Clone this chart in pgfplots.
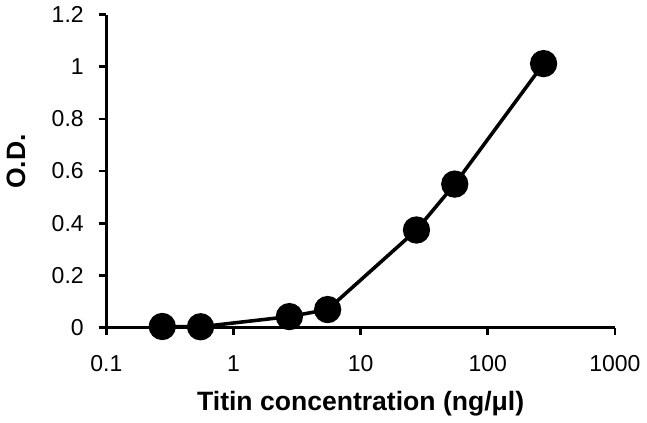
\documentclass[border=0pt]{standalone}
\usepackage{fontspec}
\setmainfont{Liberation Sans}
\usepackage{pgfplots}
\pgfplotsset{compat=1.18}

\begin{document}
\begin{tikzpicture}
\begin{semilogxaxis}[
    scale only axis,
    width=257.5bp,
    height=158.5bp,
    xmin=0.1, xmax=1000,
    ymin=0, ymax=1.2,
    axis lines*=left,
    axis line style={line width=1.3bp},
    tick align=outside,
    major tick length=4bp,
    tick style={line width=1.3bp, black},
    xtick={0.1,1,10,100,1000},
    xticklabels={0.1,1,10,100,1000},
    ytick={0,0.2,...,1.2},
    xminorticks=false,
    /pgf/number format/assume math mode=true,
    /pgf/number format/fixed,
    ticklabel style={font=\fontsize{11.7}{13}\selectfont},
    xticklabel style={yshift=-6.5bp},
    yticklabel style={xshift=-4bp},
    clip=false,
    xlabel={Titin concentration (ng/μl)},
    ylabel={O.D.},
    xlabel style={font=\fontsize{13.5}{15}\selectfont\bfseries, at={(axis description cs:0.5,0)}, anchor=base, yshift=-42bp},
    ylabel style={font=\fontsize{13.5}{15}\selectfont\bfseries, at={(axis description cs:-0.178,0.53)}, anchor=center, rotate=0},
]
\addplot[black, line width=1.8bp, mark=*, mark size=6bp, mark options={fill=black}] coordinates {
    (0.275, 0.004)
    (0.55, 0.003)
    (2.75, 0.042)
    (5.5, 0.069)
    (27.5, 0.374)
    (55, 0.550)
    (275, 1.012)
};
\end{semilogxaxis}
\end{tikzpicture}
\end{document}
